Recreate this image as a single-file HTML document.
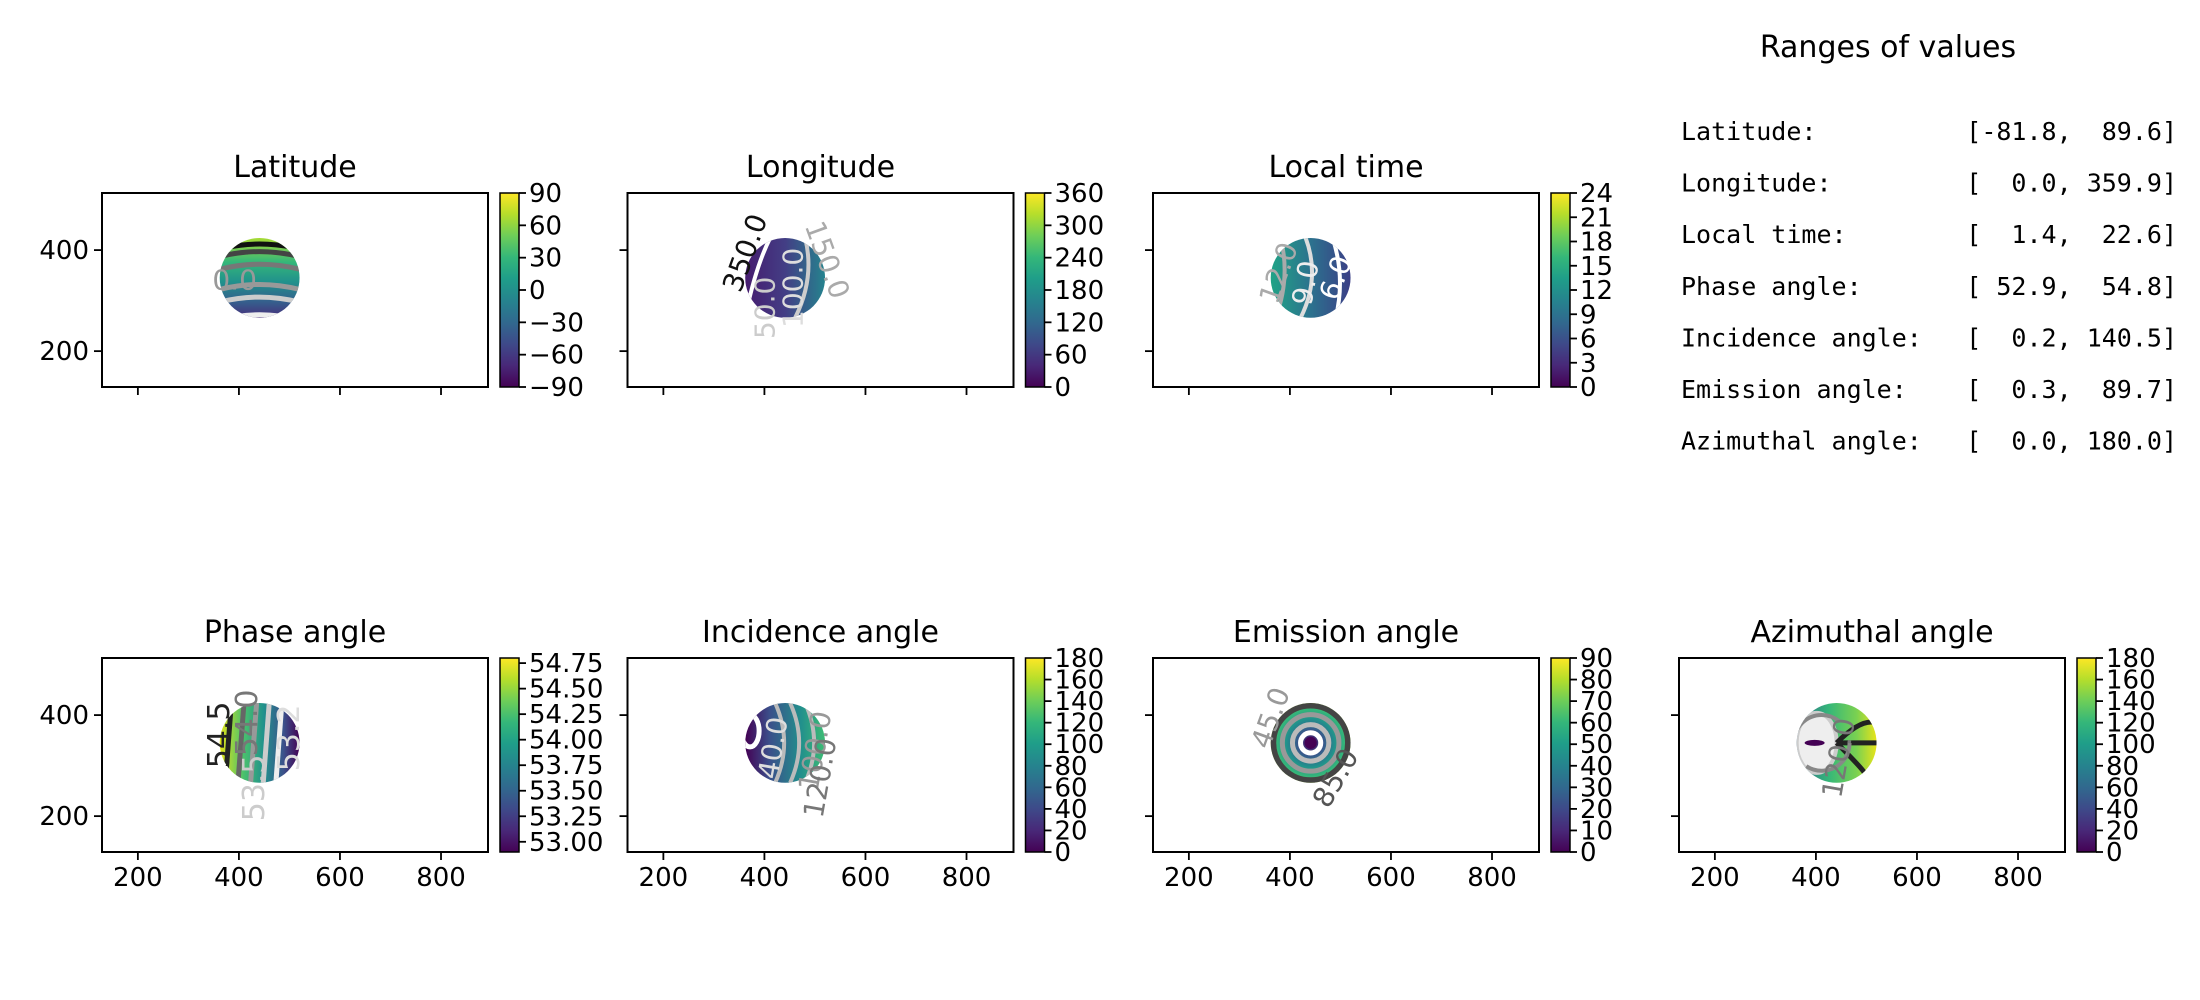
<!DOCTYPE html>
<html><head><meta charset="utf-8"><style>
html,body{margin:0;padding:0;background:#fff;}
svg{display:block;font-family:"DejaVu Sans","Liberation Sans",sans-serif;}
</style></head><body>
<svg id="fig" width="2200" height="1000" viewBox="0 0 2200 1000" xmlns="http://www.w3.org/2000/svg">
<defs>
<linearGradient id="viridisV" x1="0" y1="1" x2="0" y2="0">
<stop offset="0" stop-color="#440154"/><stop offset="0.11" stop-color="#482878"/><stop offset="0.22" stop-color="#3e4989"/><stop offset="0.33" stop-color="#31688e"/><stop offset="0.44" stop-color="#26828e"/><stop offset="0.56" stop-color="#1f9e89"/><stop offset="0.67" stop-color="#35b779"/><stop offset="0.78" stop-color="#6ece58"/><stop offset="0.89" stop-color="#b5de2b"/><stop offset="1" stop-color="#fde725"/>
</linearGradient>
<linearGradient id="gLat" x1="0" y1="0" x2="0" y2="1"><stop offset="0" stop-color="#a8db34"/><stop offset="0.3" stop-color="#35b779"/><stop offset="0.55" stop-color="#21918c"/><stop offset="0.8" stop-color="#355f8d"/><stop offset="1" stop-color="#472d7b"/></linearGradient>
<linearGradient id="gLon" x1="0" y1="0" x2="1" y2="0"><stop offset="0" stop-color="#461c6f"/><stop offset="0.5" stop-color="#433e85"/><stop offset="1" stop-color="#25838e"/></linearGradient>
<linearGradient id="gLt" x1="0" y1="0" x2="1" y2="0"><stop offset="0" stop-color="#20a386"/><stop offset="0.5" stop-color="#2c728e"/><stop offset="1" stop-color="#3b3f86"/></linearGradient>
<linearGradient id="gPh" x1="0" y1="0" x2="1" y2="0"><stop offset="0" stop-color="#e3e418"/><stop offset="0.3" stop-color="#4ac16d"/><stop offset="0.55" stop-color="#21918c"/><stop offset="0.8" stop-color="#3b528b"/><stop offset="1" stop-color="#440154"/></linearGradient>
<linearGradient id="gInc" x1="0" y1="0" x2="1" y2="0"><stop offset="0" stop-color="#440154"/><stop offset="0.3" stop-color="#3b4e8a"/><stop offset="0.7" stop-color="#22908c"/><stop offset="1" stop-color="#3dbc74"/></linearGradient>
<linearGradient id="gAz" x1="0" y1="0" x2="1" y2="0"><stop offset="0" stop-color="#31688e"/><stop offset="0.4" stop-color="#35b779"/><stop offset="0.75" stop-color="#7ad151"/><stop offset="1" stop-color="#e7e419"/></linearGradient>
<radialGradient id="gEm" cx="0.5" cy="0.5" r="0.5"><stop offset="0" stop-color="#440154"/><stop offset="0.3" stop-color="#3b528b"/><stop offset="0.6" stop-color="#21918c"/><stop offset="0.85" stop-color="#35b779"/><stop offset="1" stop-color="#a0da39"/></radialGradient>
</defs>
</svg>
<script>
// ---- data ----
const panelTitles = ["Latitude","Longitude","Local time","Phase angle","Incidence angle","Emission angle","Azimuthal angle"];
const panelGrads = ["gLat","gLon","gLt","gPh","gInc","gEm","gAz"];
const xTicks = [200,400,600,800];
const yTicks = [200,400];
const xLimits = [129,893];
const yLimits = [129,513];
const diskCenter = [441,345];
const diskRadius = 79;
const cbarRanges = [[-90,90],[0,360],[0,24],[52.9,54.8],[0,180],[0,90],[0,180]];
const cbarTicks = [
  [-90,-60,-30,0,30,60,90],
  [0,60,120,180,240,300,360],
  [0,3,6,9,12,15,18,21,24],
  [53.00,53.25,53.50,53.75,54.00,54.25,54.50,54.75],
  [0,20,40,60,80,100,120,140,160,180],
  [0,10,20,30,40,50,60,70,80,90],
  [0,20,40,60,80,100,120,140,160,180]];
const cbarDecimals = [0,0,0,2,0,0,0];
const latContourY = [410,395,370,330,305,270];
const latContourColors = ["#111","#444","#777","#999","#ccc","#eee"];
const phaseContourX = [385,410,435,460,485];
const phaseContourColors = ["#222","#666","#999","#ccc","#eee"];
const emissionRings = [20,36,56,75];
const emissionRingColors = ["#fff","#bbb","#999","#444"];
const rangeLabels = ["Latitude:","Longitude:","Local time:","Phase angle:","Incidence angle:","Emission angle:","Azimuthal angle:"];
const rangeValues = ["[-81.8,  89.6]","[  0.0, 359.9]","[  1.4,  22.6]","[ 52.9,  54.8]","[  0.2, 140.5]","[  0.3,  89.7]","[  0.0, 180.0]"];

// ---- layout ----
const NS="http://www.w3.org/2000/svg";
const svg=document.getElementById('fig');
const colLeft=[102,627.5,1153,1679];
const axW=386, rowTop=[193,658], axH=194;
const slots=[[0,0],[0,1],[0,2],[1,0],[1,1],[1,2],[1,3]];
function el(tag,attrs,parent){const e=document.createElementNS(NS,tag);for(const k in attrs)e.setAttribute(k,attrs[k]);(parent||svg).appendChild(e);return e;}
function sx(c,v){return colLeft[c]+(v-xLimits[0])/(xLimits[1]-xLimits[0])*axW;}
function sy(r,v){return rowTop[r]+axH-(v-yLimits[0])/(yLimits[1]-yLimits[0])*axH;}
const pxPerUnit=axW/(xLimits[1]-xLimits[0]);

slots.forEach(([r,c],i)=>{
  const g=el('g',{});
  
  
  const L=colLeft[c],T=rowTop[r];
  const t=el('text',{x:L+axW/2,y:T-16,'text-anchor':'middle','font-size':30,fill:'#000'},g);
  t.textContent=panelTitles[i];
  
  
  const cid='clip'+i;
  const cp=el('clipPath',{id:cid},g);
  el('rect',{x:L,y:T,width:axW,height:axH},cp);
  const plot=el('g',{'clip-path':'url(#'+cid+')'},g);
  const cx=sx(c,diskCenter[0]),cy=sy(r,diskCenter[1]),R=diskRadius*pxPerUnit;
  const dc='dclip'+i;
  const dcp=el('clipPath',{id:dc},g);
  el('circle',{cx:cx,cy:cy,r:R},dcp);
  const disk=el('circle',{cx:cx,cy:cy,r:R,fill:'url(#'+panelGrads[i]+')'},plot);
  
  
  const cont=el('g',{'clip-path':'url(#'+dc+')',fill:'none'},plot);
  
  
  const lab=(txt,x,y,rot,col,sz)=>{const tt=el('text',{x:x,y:y,'font-size':sz||26,fill:col,'text-anchor':'middle','dominant-baseline':'central',transform:'rotate('+rot+' '+x+' '+y+')'},plot);tt.textContent=txt;};
  if(i===0){
    latContourY.forEach((v,k)=>{el('path',{d:`M${cx-R} ${sy(r,v)+4} Q${cx} ${sy(r,v)-6} ${cx+R} ${sy(r,v)+4}`,stroke:latContourColors[k],'stroke-width':5},cont);});
    lab('0.0',cx-25,cy+2,0,'#999',28);
  } else if(i===1){
    el('path',{d:`M${cx-15} ${cy-R} Q${cx-30} ${cy-10} ${cx-40} ${cy+R}`,stroke:'#fff','stroke-width':4},cont);
    el('path',{d:`M${cx+20} ${cy-R} Q${cx+30} ${cy} ${cx+10} ${cy+R}`,stroke:'#ccc','stroke-width':4},cont);
    lab('350.0',cx-40,cy-25,-70,'#111',28);lab('150.0',cx+42,cy-18,70,'#aaa',28);
    lab('100.0',cx+8,cy+10,-90,'#ddd',28);lab('50.0',cx-20,cy+30,-90,'#ccc',28);
  } else if(i===2){
    el('path',{d:`M${cx-5} ${cy-R} Q${cx+10} ${cy} ${cx-10} ${cy+R}`,stroke:'#ddd','stroke-width':4},cont);
    el('path',{d:`M${cx+22} ${cy-R} Q${cx+35} ${cy} ${cx+25} ${cy+R}`,stroke:'#fff','stroke-width':4},cont);
    el('path',{d:`M${cx-30} ${cy-R} Q${cx-20} ${cy} ${cx-35} ${cy+R}`,stroke:'#aaa','stroke-width':4},cont);
    lab('12.0',cx-32,cy-5,-70,'#aaa',28);lab('9.0',cx-5,cy+5,-80,'#eee',28);lab('6.0',cx+25,cy,-70,'#fff',28);
  } else if(i===3){
    phaseContourX.forEach((v,k)=>{el('line',{x1:sx(c,v),y1:cy-R,x2:sx(c,v)-6,y2:cy+R,stroke:phaseContourColors[k],'stroke-width':5},cont);});
    lab('54.5',cx-40,cy-8,-90,'#222',30);lab('54.0',cx-12,cy-20,-90,'#777',30);lab('53.2',cx+30,cy-5,-90,'#ddd',30);lab('53.5',cx-5,cy+45,-90,'#ccc',30);
  } else if(i===4){
    el('ellipse',{cx:cx-35,cy:cy-12,rx:9,ry:16,stroke:'#fff','stroke-width':5},cont);
    [25,40,55].forEach(d=>el('path',{d:`M${cx-35+d} ${cy-R} Q${cx-35+d+18} ${cy} ${cx-35+d} ${cy+R}`,stroke:'#bbb','stroke-width':4},cont));
    lab('40.0',cx-12,cy+5,-80,'#ddd',28);lab('100.0',cx+30,cy+8,-80,'#999',28);lab('120.0',cx+35,cy+35,-80,'#777',28);
  } else if(i===5){
    emissionRings.forEach((v,k)=>{el('circle',{cx:cx,cy:cy,r:v*pxPerUnit,stroke:emissionRingColors[k],'stroke-width':k===3?7:5},cont);});
    el('circle',{cx:cx,cy:cy,r:12*pxPerUnit,fill:'#440154'},cont);
    lab('45.0',cx-40,cy-25,-70,'#999',28);lab('85.0',cx+25,cy+35,-60,'#555',28);
  } else if(i===6){
    el('ellipse',{cx:cx-20,cy:cy,rx:20,ry:30,fill:'#eee',stroke:'#ccc','stroke-width':4},cont);
    el('ellipse',{cx:cx-22,cy:cy,rx:10,ry:3,fill:'#440154'},cont);
    el('path',{d:`M${cx} ${cy} Q${cx+25} ${cy-25} ${cx+R} ${cy-20} M${cx} ${cy} Q${cx+25} ${cy+25} ${cx+R*0.7} ${cy+30} M${cx} ${cy} L${cx+R} ${cy}`,stroke:'#222','stroke-width':5},cont);
    el('path',{d:`M${cx-R} ${cy} L${cx-40} ${cy}`,stroke:'#111','stroke-width':6},cont);
    el('circle',{cx:cx-15,cy:cy,r:R-12,stroke:'#888','stroke-width':4,'stroke-dasharray':'60 30'},cont);
    lab('120.0',cx+2,cy+15,-80,'#777',28);
  }
  const fr=el('rect',{x:L,y:T,width:axW,height:axH,fill:'none',stroke:'#000','stroke-width':2},g);
  
  
  xTicks.forEach(v=>{const x=sx(c,v);el('line',{x1:x,y1:T+axH,x2:x,y2:T+axH+8,stroke:'#000','stroke-width':1.8},g);
    if(r===1){const tt=el('text',{x:x,y:T+axH+34,'text-anchor':'middle','font-size':26,fill:'#000'},g);tt.textContent=v;}});
  yTicks.forEach(v=>{const y=sy(r,v);el('line',{x1:L,y1:y,x2:L-8,y2:y,stroke:'#000','stroke-width':1.8},g);
    if(c===0){const tt=el('text',{x:L-13,y:y+9,'text-anchor':'end','font-size':26,fill:'#000'},g);tt.textContent=v;}});
  const cbx=L+axW+12,cbw=19;
  const cb=el('rect',{x:cbx,y:T,width:cbw,height:axH,fill:'url(#viridisV)',stroke:'#000','stroke-width':1.5},g);
  
  
  const [lo,hi]=cbarRanges[i];
  cbarTicks[i].forEach(v=>{const y=T+axH-(v-lo)/(hi-lo)*axH;el('line',{x1:cbx+cbw,y1:y,x2:cbx+cbw+7,y2:y,stroke:'#000','stroke-width':1.8},g);
    const tt=el('text',{x:cbx+cbw+10,y:y+9,'font-size':26,fill:'#000'},g);tt.textContent=(v<0?'\u2212':'')+Math.abs(v).toFixed(cbarDecimals[i]);
    
    });
});
const rt=el('text',{x:1888,y:57,'text-anchor':'middle','font-size':30,fill:'#000'});
rt.textContent='Ranges of values';


rangeLabels.forEach((s,k)=>{
  const y=140+k*51.6;
  const a=el('text',{x:1681,y:y,'font-size':25,fill:'#000','font-family':'"DejaVu Sans Mono","Liberation Mono",monospace'});
  a.textContent=s;
  const b=el('text',{x:2177,y:y,'text-anchor':'end','font-size':25,fill:'#000','font-family':'"DejaVu Sans Mono","Liberation Mono",monospace'});
  b.style.whiteSpace='pre';
  b.textContent=rangeValues[k];
});
</script>
</body></html>
